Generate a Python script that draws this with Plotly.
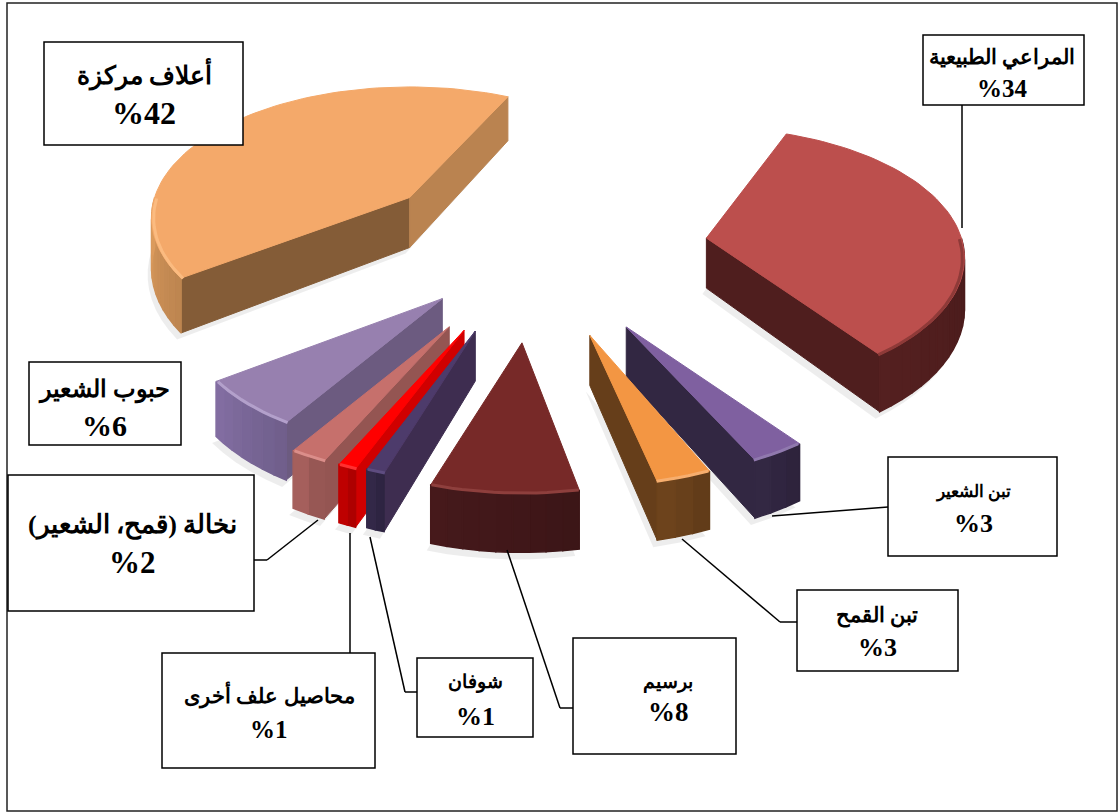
#!/usr/bin/env python3
"""Exploded 3-D style pie of feed sources, drawn as projected polygons."""
import math
import plotly.graph_objects as go

# clockwise from the start angle
categories = ["المراعي الطبيعية", "تبن الشعير", "تبن القمح", "برسيم", "شوفان",
              "محاصيل علف أخرى", "نخالة (قمح، الشعير)", "حبوب الشعير", "أعلاف مركزة"]
values = [34, 3, 3, 8, 1, 1, 2, 6, 42]

# styles per slice
top_col = ["#BC4F4D", "#7F60A0", "#F39643", "#772928", "#4D3B6B", "#FF0000", "#C6706C", "#9780AF", "#F4A96A"]
rim_col = ["#8E3A38", "#9079AE", "#F7AE6E", "#8E3F3D", "#5E4C80", "#FF3030", "#DB8E8A", "#B3A0CB", "#FBBB80"]
band_col = ["#4F1E1E", "#322742", "#6B421C", "#42181A", "#332848", "#BE0000", "#A55F5C", "#7B6899", "#CF9258"]
wall0_col = ["#4F1E1E", "#322742", "#663E1A", "#42181A", "#3E2D50", "#D00000", "#945552", "#6C5B80", "#845C37"]
wall1_col = ["#4F1E1E", "#322742", "#663E1A", "#42181A", "#3E2D50", "#D00000", "#945552", "#6C5B80", "#BA8350"]
explode = [175, 180, 180, 186, 172, 175, 175, 133, 162]
twist = [-4, -4, -2, 0, 0, 0, 0, 0, 1]
draw_order = [8, 0, 7, 6, 5, 4, 3, 1, 2]

START = 25.0
CX, CY = 533, 250
KY = 0.5
PERSP = 0.0006
RADIUS = 255
DROP = 50


def project(ang, r, mid, ex, drop=0):
    a, m = math.radians(ang), math.radians(mid)
    x = r * math.sin(a)
    y = r * math.cos(a)
    s = 1 / (1 + PERSP * y)
    return CX + s * x + ex * math.sin(m), CY - KY * (s * y + ex * math.cos(m)) + drop * s


def poly(fig, pts, color, line=None, width=1):
    fig.add_trace(go.Scatter(x=[p[0] for p in pts] + [pts[0][0]], y=[p[1] for p in pts] + [pts[0][1]],
                             mode="lines", fill="toself", fillcolor=color,
                             line=dict(color=line or color, width=width), hoverinfo="skip", showlegend=False))


def shade(hex_col, f):
    r, g, b = [int(hex_col[i:i + 2], 16) for i in (1, 3, 5)]
    return f"rgb({min(255, int(r * f))},{min(255, int(g * f))},{min(255, int(b * f))})"


fig = go.Figure()
spans = []
a = START
for v, tw in zip(values, twist):
    spans.append((a + tw, a + tw + v * 3.6))
    a += v * 3.6

# soft shadows first
for i in draw_order:
    a0, a1 = spans[i]
    mid, ex = (a0 + a1) / 2, explode[i]
    n = max(2, int((a1 - a0) / 4))
    arc = [a0 + (a1 - a0) * k / n for k in range(n + 1)]
    pts = [project(mid, 0, mid, ex, DROP + 6)] + [project(t, RADIUS, mid, ex, DROP + 6) for t in arc]
    poly(fig, [(x - 4, y) for x, y in pts], "rgba(0,0,0,0.07)", "rgba(0,0,0,0)")

for i in draw_order:
    a0, a1 = spans[i]
    mid, ex = (a0 + a1) / 2, explode[i]
    tip = project(mid, 0, mid, ex)
    tip_b = project(mid, 0, mid, ex, DROP)
    # cut faces
    if math.sin(math.radians(a0)) < 0:
        poly(fig, [tip, project(a0, RADIUS, mid, ex), project(a0, RADIUS, mid, ex, DROP), tip_b], wall0_col[i])
    if math.sin(math.radians(a1)) > 0:
        poly(fig, [tip, project(a1, RADIUS, mid, ex), project(a1, RADIUS, mid, ex, DROP), tip_b], wall1_col[i])
    # outer band, only the part that faces the viewer
    lo, hi = max(a0, 90), min(a1, 270)
    if hi > lo:
        n = max(2, int((hi - lo) / 3))
        for k in range(n):
            t0, t1 = lo + (hi - lo) * k / n, lo + (hi - lo) * (k + 1) / n
            f = 0.92 + 0.16 * k / n
            poly(fig, [project(t0, RADIUS, mid, ex), project(t1, RADIUS, mid, ex),
                       project(t1, RADIUS, mid, ex, DROP), project(t0, RADIUS, mid, ex, DROP)],
                 shade(band_col[i], f), width=1.5)
    # top face
    n = max(3, int((a1 - a0) / 2))
    arc = [project(a0 + (a1 - a0) * k / n, RADIUS, mid, ex) for k in range(n + 1)]
    poly(fig, [tip] + arc, top_col[i])
    if hi > lo:
        m = max(3, int((hi - lo) / 2))
        rim = [project(lo + (hi - lo) * k / m, RADIUS - 2, mid, ex, 1) for k in range(m + 1)]
        fig.add_trace(go.Scatter(x=[p[0] for p in rim], y=[p[1] for p in rim], mode="lines",
                                 line=dict(color=rim_col[i], width=3), hoverinfo="skip", showlegend=False))

# label boxes: x0, y0, x1, y1, name size, percent size, name line y, percent line y, text centre x
boxes = [(923, 35, 1084, 105, 21, 25, 57, 88, 1002), (888, 457, 1057, 556, 17, 26, 492, 523, 973),
         (797, 590, 958, 671, 21, 26, 615, 647, 877), (573, 638, 736, 754, 19, 27, 682, 712, 668),
         (417, 658, 533, 737, 19, 26, 682, 716, 475), (162, 653, 375, 768, 21, 25, 695, 729, 269),
         (8, 475, 254, 611, 26, 31, 525, 562, 132), (29, 362, 181, 445, 24, 30, 390, 425, 104),
         (44, 42, 243, 145, 25, 32, 74, 113, 144)]
leaders = [[(962, 105), (962, 228)], [(888, 507), (772, 516)], [(797, 622), (780, 622), (682, 539)],
           [(573, 708), (560, 708), (507, 550)], [(417, 692), (405, 692), (370, 537)],
           [(350, 653), (350, 533)], [(254, 560), (267, 560), (318, 520)],
           [], []]

shapes = [dict(type="rect", x0=7, y0=3, x1=1117, y1=811, line=dict(color="#222222", width=1.5), layer="below")]
for pts in leaders:
    for p, q in zip(pts, pts[1:]):
        shapes.append(dict(type="line", x0=p[0], y0=p[1], x1=q[0], y1=q[1], line=dict(color="black", width=1.5)))
for b in boxes:
    shapes.append(dict(type="rect", x0=b[0], y0=b[1], x1=b[2], y1=b[3], fillcolor="white",
                       line=dict(color="black", width=1.5)))

annotations = []
for (x0, y0, x1, y1, s_name, s_pct, y_name, y_pct, xc), c, v in zip(boxes, categories, values):
    annotations.append(dict(x=xc, y=y_name, text=f"<b>{c}</b>", showarrow=False,
                            font=dict(family="Liberation Serif", size=s_name, color="black")))
    annotations.append(dict(x=xc, y=y_pct, text=f"<b>%{v}</b>", showarrow=False,
                            font=dict(family="Liberation Serif", size=s_pct, color="black")))

fig.update_layout(
    width=1118, height=812, margin=dict(l=0, r=0, t=0, b=0), paper_bgcolor="white", plot_bgcolor="white",
    xaxis=dict(range=[0, 1118], visible=False, fixedrange=True),
    yaxis=dict(range=[812, 0], visible=False, fixedrange=True),
    shapes=shapes, annotations=annotations, showlegend=False,
)
fig.write_html("out.html", config=dict(displayModeBar=False), post_script="document.body.style.margin='0';")
